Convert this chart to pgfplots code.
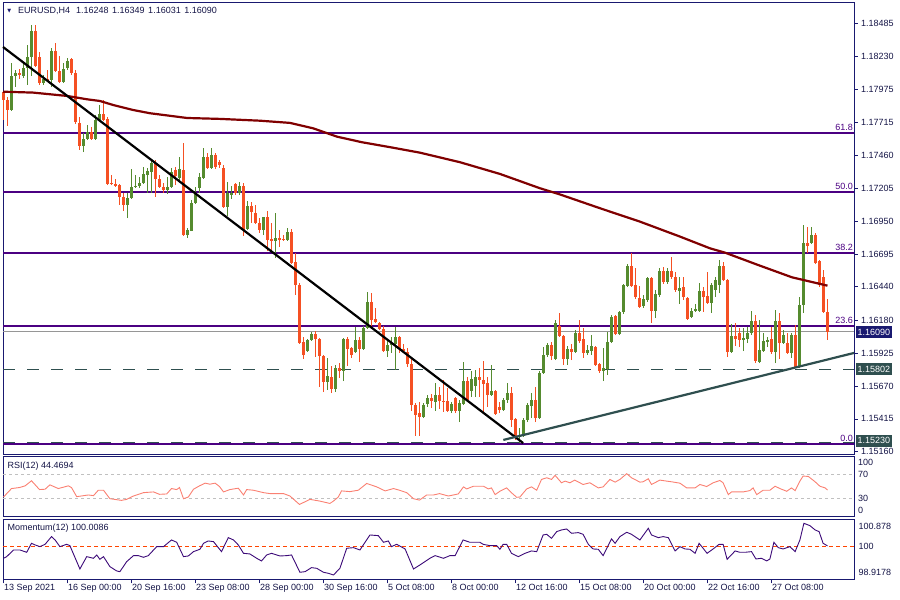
\documentclass[border=0pt]{standalone}
\usepackage{pgfplots}
\pgfplotsset{compat=1.18}
\usepackage{pgfplotstable}
\usepackage{fontspec}
\setmainfont{Liberation Sans}
\newfontfamily\dejavu{DejaVu Sans}
\definecolor{frame}{RGB}{25,25,112}
\definecolor{txt}{RGB}{20,20,70}
\definecolor{bull}{RGB}{85,139,47}
\definecolor{bear}{RGB}{245,80,35}
\definecolor{fib}{RGB}{75,0,130}
\definecolor{ma}{RGB}{128,0,0}
\definecolor{slate}{RGB}{47,79,79}
\definecolor{rsic}{RGB}{250,128,114}
\definecolor{momc}{RGB}{60,10,120}
\definecolor{lvl}{RGB}{255,69,0}
\definecolor{silv}{RGB}{192,192,192}
\definecolor{bid}{RGB}{150,150,150}
\newcommand{\lbl}{\fontsize{9bp}{10.8bp}\selectfont}

\pgfplotstableread{
i o h l c
2 1.17812 1.18177 1.17805 1.18076
3 1.18076 1.18123 1.17991 1.18100
5 1.18076 1.18185 1.18061 1.18138
6 1.18138 1.18317 1.18006 1.18224
7 1.18224 1.18472 1.18076 1.18425
10 1.18022 1.18084 1.18006 1.18053
12 1.18045 1.18294 1.17991 1.18270
15 1.18030 1.18177 1.18022 1.18131
16 1.18138 1.18216 1.18123 1.18193
20 1.17533 1.17634 1.17486 1.17587
21 1.17587 1.17696 1.17580 1.17642
23 1.17587 1.17774 1.17580 1.17735
24 1.17735 1.17851 1.17727 1.17781
31 1.17075 1.17168 1.16974 1.17130
32 1.17130 1.17355 1.17122 1.17215
33 1.17215 1.17308 1.17207 1.17223
34 1.17223 1.17293 1.17207 1.17246
35 1.17246 1.17370 1.17238 1.17316
36 1.17308 1.17362 1.17168 1.17339
37 1.17331 1.17424 1.17168 1.17401
41 1.17192 1.17293 1.17161 1.17215
42 1.17215 1.17362 1.17207 1.17331
44 1.17285 1.17448 1.17269 1.17355
46 1.16842 1.16897 1.16819 1.16881
47 1.16873 1.17114 1.16873 1.17091
48 1.17091 1.17215 1.17083 1.17168
49 1.17207 1.17324 1.17168 1.17293
50 1.17285 1.17518 1.17277 1.17448
52 1.17362 1.17518 1.17355 1.17463
56 1.17060 1.17254 1.16990 1.17168
57 1.17153 1.17223 1.17122 1.17168
59 1.17168 1.17254 1.17153 1.17223
61 1.16889 1.17106 1.16881 1.17067
65 1.16881 1.16982 1.16842 1.16982
68 1.16796 1.17013 1.16664 1.16819
71 1.16804 1.16897 1.16796 1.16866
76 1.15942 1.16035 1.15935 1.16028
77 1.16028 1.16090 1.16020 1.16074
81 1.15702 1.15888 1.15640 1.15748
83 1.15647 1.15834 1.15624 1.15810
85 1.15787 1.16043 1.15709 1.16035
88 1.15935 1.16129 1.15927 1.16028
90 1.15958 1.16136 1.15950 1.16121
91 1.16121 1.16400 1.16113 1.16323
96 1.15942 1.16035 1.15896 1.15989
97 1.15989 1.16051 1.15927 1.16004
98 1.15997 1.16129 1.15795 1.16051
105 1.15430 1.15539 1.15422 1.15523
106 1.15531 1.15601 1.15508 1.15578
108 1.15547 1.15694 1.15477 1.15601
112 1.15477 1.15547 1.15461 1.15531
114 1.15477 1.15562 1.15391 1.15539
115 1.15531 1.15857 1.15523 1.15709
117 1.15632 1.15787 1.15585 1.15725
118 1.15671 1.15795 1.15585 1.15741
122 1.15601 1.15834 1.15593 1.15632
125 1.15484 1.15578 1.15477 1.15562
126 1.15562 1.15694 1.15539 1.15616
129 1.15275 1.15345 1.15228 1.15290
130 1.15283 1.15422 1.15275 1.15407
131 1.15407 1.15539 1.15391 1.15523
132 1.15515 1.15616 1.15422 1.15562
134 1.15422 1.15787 1.15415 1.15772
135 1.15772 1.15973 1.15764 1.15911
136 1.15911 1.16004 1.15896 1.15989
138 1.15880 1.16183 1.15872 1.16160
141 1.15880 1.15981 1.15834 1.15958
143 1.15935 1.16105 1.15927 1.16082
146 1.15927 1.15989 1.15911 1.15950
147 1.15942 1.16066 1.15911 1.15981
150 1.15787 1.15966 1.15709 1.15810
151 1.15803 1.16090 1.15756 1.16012
152 1.16012 1.16222 1.16004 1.16206
154 1.16074 1.16253 1.16066 1.16245
155 1.16245 1.16462 1.16229 1.16454
156 1.16447 1.16617 1.16439 1.16602
160 1.16291 1.16377 1.16276 1.16346
161 1.16338 1.16517 1.16323 1.16509
163 1.16253 1.16416 1.16198 1.16385
164 1.16377 1.16586 1.16361 1.16563
166 1.16478 1.16586 1.16462 1.16563
169 1.16408 1.16517 1.16307 1.16431
172 1.16206 1.16276 1.16198 1.16253
173 1.16253 1.16307 1.16245 1.16268
174 1.16253 1.16470 1.16245 1.16408
177 1.16315 1.16470 1.16237 1.16454
178 1.16416 1.16517 1.16361 1.16493
179 1.16454 1.16648 1.16392 1.16602
182 1.15935 1.16152 1.15927 1.16059
185 1.16028 1.16121 1.15942 1.16043
186 1.16035 1.16129 1.16004 1.16082
187 1.16082 1.16253 1.16066 1.16175
189 1.15857 1.16183 1.15849 1.15950
190 1.15942 1.16082 1.15935 1.16020
191 1.16012 1.16051 1.15973 1.16028
193 1.15935 1.16260 1.15849 1.16175
195 1.16004 1.16105 1.15997 1.16066
197 1.15927 1.16082 1.15888 1.16066
199 1.15818 1.16361 1.15810 1.16299
200 1.16299 1.16920 1.16237 1.16780
202 1.16780 1.16905 1.16773 1.16842
}\bulltab

\pgfplotstableread{
i o h l c
0 1.17952 1.17960 1.17735 1.17890
1 1.17890 1.17913 1.17688 1.17812
4 1.18100 1.18131 1.18053 1.18084
8 1.18425 1.18472 1.18146 1.18154
9 1.18224 1.18262 1.18006 1.18022
11 1.18053 1.18123 1.18030 1.18037
13 1.18270 1.18332 1.18107 1.18115
14 1.18115 1.18231 1.18022 1.18030
17 1.18208 1.18216 1.18084 1.18100
18 1.18100 1.18123 1.17704 1.17719
19 1.17712 1.17758 1.17502 1.17533
22 1.17642 1.17680 1.17580 1.17587
25 1.17781 1.17890 1.17727 1.17735
26 1.17743 1.17758 1.17230 1.17238
27 1.17246 1.17308 1.17230 1.17238
28 1.17238 1.17277 1.17215 1.17223
29 1.17230 1.17238 1.17075 1.17137
30 1.17137 1.17168 1.17029 1.17075
38 1.17401 1.17424 1.17137 1.17277
39 1.17277 1.17308 1.17207 1.17215
40 1.17215 1.17246 1.17168 1.17192
43 1.17347 1.17370 1.17230 1.17300
45 1.17347 1.17556 1.16835 1.16842
51 1.17448 1.17479 1.17355 1.17362
53 1.17463 1.17479 1.17355 1.17370
54 1.17409 1.17424 1.17362 1.17386
55 1.17362 1.17386 1.17052 1.17060
58 1.17238 1.17246 1.17153 1.17168
60 1.17223 1.17246 1.16835 1.16881
62 1.17067 1.17099 1.16936 1.17021
63 1.17013 1.17075 1.16928 1.16936
64 1.16936 1.16974 1.16858 1.16881
66 1.16982 1.17029 1.16718 1.16804
67 1.16811 1.16936 1.16711 1.16796
69 1.16819 1.16881 1.16749 1.16804
70 1.16811 1.16842 1.16796 1.16804
72 1.16866 1.16889 1.16617 1.16625
73 1.16633 1.16703 1.16377 1.16454
74 1.16454 1.16470 1.15997 1.16004
75 1.16012 1.16051 1.15880 1.15911
78 1.16074 1.16097 1.15896 1.16035
79 1.16035 1.16043 1.15663 1.15903
80 1.15903 1.15911 1.15624 1.15702
82 1.15741 1.15826 1.15616 1.15647
84 1.15810 1.15849 1.15733 1.15787
86 1.16035 1.16051 1.15826 1.15958
87 1.15966 1.15973 1.15888 1.15911
89 1.16028 1.16051 1.15857 1.15958
92 1.16323 1.16392 1.16136 1.16183
93 1.16191 1.16276 1.16160 1.16167
94 1.16160 1.16167 1.16105 1.16113
95 1.16113 1.16136 1.15935 1.15942
99 1.16051 1.16059 1.15927 1.15958
100 1.15958 1.15997 1.15927 1.15942
101 1.15935 1.15966 1.15818 1.15841
102 1.15841 1.15896 1.15477 1.15523
103 1.15523 1.15539 1.15283 1.15446
104 1.15461 1.15547 1.15283 1.15430
107 1.15578 1.15609 1.15500 1.15554
109 1.15601 1.15663 1.15492 1.15554
110 1.15554 1.15717 1.15469 1.15547
111 1.15554 1.15655 1.15469 1.15477
113 1.15578 1.15585 1.15461 1.15477
116 1.15709 1.15741 1.15547 1.15562
119 1.15741 1.15810 1.15585 1.15717
120 1.15717 1.15865 1.15461 1.15686
121 1.15694 1.15741 1.15508 1.15601
123 1.15632 1.15640 1.15446 1.15453
124 1.15508 1.15547 1.15461 1.15484
127 1.15616 1.15663 1.15353 1.15407
128 1.15415 1.15422 1.15252 1.15283
133 1.15562 1.15663 1.15391 1.15422
137 1.15989 1.16012 1.15872 1.15903
139 1.16136 1.16237 1.16051 1.16059
140 1.16059 1.16066 1.15834 1.15880
142 1.15958 1.15997 1.15872 1.15935
144 1.16082 1.16183 1.16004 1.16020
145 1.16035 1.16121 1.15888 1.15927
148 1.15973 1.15981 1.15826 1.15834
149 1.15841 1.15849 1.15772 1.15787
153 1.16214 1.16222 1.16066 1.16074
157 1.16602 1.16703 1.16439 1.16447
158 1.16454 1.16586 1.16346 1.16361
159 1.16354 1.16447 1.16276 1.16284
162 1.16509 1.16517 1.16160 1.16253
165 1.16563 1.16594 1.16462 1.16478
167 1.16563 1.16672 1.16501 1.16517
168 1.16517 1.16555 1.16400 1.16416
170 1.16439 1.16517 1.16338 1.16361
171 1.16354 1.16361 1.16183 1.16191
175 1.16408 1.16439 1.16245 1.16361
176 1.16369 1.16555 1.16307 1.16315
180 1.16602 1.16633 1.16485 1.16493
181 1.16493 1.16501 1.15896 1.15935
183 1.16059 1.16160 1.15981 1.16035
184 1.16082 1.16121 1.15973 1.16028
188 1.16175 1.16222 1.15849 1.15865
192 1.16035 1.16129 1.15919 1.15935
194 1.16175 1.16237 1.15880 1.16004
196 1.16004 1.16082 1.15919 1.15927
198 1.16066 1.16144 1.15810 1.15818
201 1.16780 1.16905 1.16703 1.16757
203 1.16842 1.16858 1.16617 1.16625
204 1.16641 1.16648 1.16439 1.16454
205 1.16517 1.16571 1.16237 1.16245
206 1.16248 1.16349 1.16031 1.16090
}\beartab

\pgfplotsset{
  mtpanel/.style={
    scale only axis, width=851bp, xmin=-0.125, xmax=212.625,
    axis line style={draw=frame, line width=0.9bp},
    tick style={draw=frame, line width=0.8bp},
    ytick pos=right, yticklabel pos=right,
    tick align=outside, major tick length=3.5bp,
    yticklabel style={font=\lbl, text=txt, anchor=west, inner sep=0pt},
    scaled y ticks=false, clip=false,
  },
  wick/.style={draw=none, mark=none, forget plot,
    error bars/.cd, y dir=plus, y explicit, error mark=none,
    error bar style={draw=#1, line width=1bp}},
  body/.style={draw=none, mark=none, forget plot,
    error bars/.cd, y dir=plus, y explicit, error mark=none,
    error bar style={draw=#1, line width=3bp}},
}

\begin{document}
\begin{tikzpicture}
\useasboundingbox (0bp,0bp) rectangle (900bp,600bp);

% ---------------- main price panel ----------------
\begin{axis}[mtpanel, at={(3bp,146bp)}, anchor=south west, height=452bp,
  ymin=1.15143, ymax=1.18650, xtick=\empty,
  ytick={1.15160,1.15415,1.15670,1.15925,1.16180,1.16440,1.16695,1.16950,1.17205,1.17460,1.17715,1.17975,1.18230,1.18485},
  yticklabels={1.15160,1.15415,1.15670,1.15925,1.16180,1.16440,1.16695,1.16950,1.17205,1.17460,1.17715,1.17975,1.18230,1.18485},
  yticklabel style={xshift=3.5bp}]
% horizontal levels
\addplot[bid, line width=1bp] coordinates {(-0.125,1.16097) (212.625,1.16097)};
\addplot[fib, line width=2bp] coordinates {(-0.125,1.17632) (212.625,1.17632)};
\addplot[fib, line width=2bp] coordinates {(-0.125,1.17174) (212.625,1.17174)};
\addplot[fib, line width=2bp] coordinates {(-0.125,1.16705) (212.625,1.16705)};
\addplot[fib, line width=2bp] coordinates {(-0.125,1.16139) (212.625,1.16139)};
\addplot[fib, line width=2bp] coordinates {(-0.125,1.15222) (212.625,1.15222)};
\addplot[slate, line width=1bp, dash pattern=on 12bp off 12bp] coordinates {(-0.125,1.15802) (212.625,1.15802)};
\addplot[slate, line width=1bp, dash pattern=on 12bp off 12bp] coordinates {(-0.125,1.15235) (212.625,1.15235)};
% candles
\addplot[wick=bull] table[x=i, y=l, y error expr=\thisrow{h}-\thisrow{l}] {\bulltab};
\addplot[body=bull] table[x=i, y=o, y error expr=\thisrow{c}-\thisrow{o}] {\bulltab};
\addplot[wick=bear] table[x=i, y=l, y error expr=\thisrow{h}-\thisrow{l}] {\beartab};
\addplot[body=bear] table[x=i, y=c, y error expr=\thisrow{o}-\thisrow{c}] {\beartab};
% moving average
\addplot[ma, line width=2.2bp] coordinates {(-0.125,1.17954)(7.4,1.17947)(15.9,1.17921)(20.9,1.17895)(24.1,1.17882)(27.4,1.17851)(32.4,1.17812)(36.6,1.17787)(45.9,1.17750)(54.1,1.17743)(64.1,1.17729)(71.6,1.17712)(77.4,1.17670)(83.4,1.17605)(89.6,1.17562)(97.1,1.17521)(104.1,1.17481)(114.1,1.17407)(124.1,1.17316)(134.1,1.17205)(139.1,1.17157)(149.1,1.17050)(159.1,1.16946)(169.1,1.16830)(176.6,1.16739)(180.4,1.16705)(188.6,1.16610)(197.1,1.16514)(206,1.16449)};
% trend lines
\addplot[black, line width=2.2bp] coordinates {(-0.125,1.18301) (129.9,1.15228)};
\addplot[slate, line width=2.2bp] coordinates {(124.95,1.15252) (212.625,1.15927)};
% fib labels
\node[anchor=south east, inner sep=0pt, text=fib, font=\lbl] at (axis cs:212.625,1.17632) [xshift=-1bp, yshift=2bp] {61.8};
\node[anchor=south east, inner sep=0pt, text=fib, font=\lbl] at (axis cs:212.625,1.17174) [xshift=-1bp, yshift=2bp] {50.0};
\node[anchor=south east, inner sep=0pt, text=fib, font=\lbl] at (axis cs:212.625,1.16705) [xshift=-1bp, yshift=2bp] {38.2};
\node[anchor=south east, inner sep=0pt, text=fib, font=\lbl] at (axis cs:212.625,1.16139) [xshift=-1bp, yshift=2bp] {23.6};
\node[anchor=south east, inner sep=0pt, text=fib, font=\lbl] at (axis cs:212.625,1.15222) [xshift=-1bp, yshift=2bp] {0.0};
% price boxes
\node[anchor=west, fill=frame, text=white, font=\lbl, inner xsep=2bp, inner ysep=2.5bp] at (axis cs:212.625,1.16090) [xshift=1.5bp] {1.16090};
\node[anchor=west, fill=slate, text=white, font=\lbl, inner xsep=2bp, inner ysep=2.5bp] at (axis cs:212.625,1.15802) [xshift=1.5bp] {1.15802};
\node[anchor=west, fill=slate, text=white, font=\lbl, inner xsep=2bp, inner ysep=2.5bp] at (axis cs:212.625,1.15245) [xshift=1.5bp] {1.15230};
% title
\node[inner sep=0pt, text=frame] at (rel axis cs:0,1) [xshift=6.2bp, yshift=-8.8bp] {\dejavu\fontsize{5bp}{6bp}\selectfont ▼};
\node[anchor=west, inner sep=0pt, text=txt, font=\lbl] at (rel axis cs:0,1) [xshift=15bp, yshift=-9bp]
  {EURUSD,H4\hspace{6bp}1.16248\hspace{3.5bp}1.16349\hspace{3.5bp}1.16031\hspace{3.5bp}1.16090};
\end{axis}

% ---------------- RSI panel ----------------
\begin{axis}[mtpanel, at={(3bp,83.3bp)}, anchor=south west, height=60bp,
  ymin=0, ymax=100, xtick=\empty,
  ytick={11,30,70,90}, yticklabels={0,30,70,100},
  ytick style={draw=none},
  yticklabel style={xshift=0.5bp}]
\addplot[silv, line width=0.8bp, dash pattern=on 3bp off 3bp] coordinates {(-0.125,30) (212.625,30)};
\addplot[silv, line width=0.8bp, dash pattern=on 3bp off 3bp] coordinates {(-0.125,70) (212.625,70)};
\addplot[rsic, line width=0.9bp] coordinates {(0,32.8)(2,46.9)(4,48.6)(5.4,51.4)(7,59.9)(9,45.2)(10.4,45.8)(11.6,53.1)(13.7,46.9)(16.2,51.4)(17,48.6)(18.3,33.4)(21.2,36.2)(22.5,35.1)(23.7,44.1)(25,44.1)(26.6,30)(29.5,27.2)(30.8,28.9)(32.5,34.5)(35,40.1)(37.5,41.3)(39,37.3)(40.8,37.9)(42,46.9)(43.3,45.2)(44,48.6)(45,30)(46.2,32.8)(47.5,45.8)(49,51.4)(50.4,55.9)(51.6,54.2)(52.9,55.9)(54,50.3)(55,41.3)(56.6,45.2)(58.7,47.5)(60,36.2)(60.8,45.2)(62.5,44.1)(65,40.1)(66.6,38.5)(70,38.5)(71.6,34.5)(74,20.4)(76.6,28.9)(79,26.1)(81.6,22.1)(82.5,26.1)(83.7,32.8)(84.5,43)(86.6,41.8)(88.7,44.1)(90.8,55.4)(93.3,49.7)(95.4,43)(97.5,46.9)(99,44.1)(100.8,40.1)(102.5,30)(104,27.7)(105.8,36.2)(107.5,36.2)(109,38.5)(111.2,34.5)(112.9,36.8)(113.7,38)(115,49.7)(115.8,46.3)(117.5,50.8)(120,50.8)(121.2,46.3)(122,48)(122.9,36.8)(124.1,42.4)(125.8,48)(127,39.9)(128.3,32.3)(129.1,32.8)(130.8,46.3)(132,49.7)(133.3,44.1)(134.5,62.1)(135.8,64.9)(137,62.1)(137.9,68.9)(139.5,56.5)(140.4,59.3)(141.6,56.5)(142.8,61)(144.9,53.7)(146.6,56.5)(148.7,48)(149.9,49.7)(151.6,62.1)(152.9,57.6)(154.1,62.1)(155.8,71.7)(157,64.9)(159.1,57.6)(159.9,58.2)(161.2,63.2)(162,53.7)(164.1,61)(165.8,59.3)(167,58.2)(169.1,55.9)(170.8,48)(172.9,48)(174.1,53.7)(175.8,50.3)(177.4,56.5)(179.1,60.4)(179.9,56.5)(181.2,36.8)(182,41.3)(184.9,41.3)(186.6,43.5)(187.4,48)(188.3,36.8)(189.9,44.1)(191.6,44.1)(192.9,50.8)(194.1,46.9)(195.8,42.4)(197,48)(197.9,43.5)(199.1,59.3)(199.9,67.7)(201.2,67.1)(202.9,58.2)(204.1,50.8)(205.4,48)(206,44.47)};
\node[anchor=west, inner sep=0pt, text=txt, font=\lbl] at (rel axis cs:0,1) [xshift=4.5bp, yshift=-9bp] {RSI(12) 44.4694};
\end{axis}

% ---------------- Momentum panel ----------------
\begin{axis}[mtpanel, at={(3bp,20.7bp)}, anchor=south west, height=60bp,
  ymin=98.9178, ymax=100.878,
  ytick={99.146,100,100.659}, yticklabels={98.9178,100,100.878},
  ytick style={draw=none},
  yticklabel style={xshift=0.5bp},
  xtick pos=bottom, major tick length=4bp,
  xtick={-0.125,15.875,31.875,47.875,63.875,79.875,95.875,111.875,127.875,143.875,159.875,175.875,191.875},
  xticklabels={13 Sep 2021,16 Sep 00:00,20 Sep 16:00,23 Sep 08:00,28 Sep 00:00,30 Sep 16:00,5 Oct 08:00,8 Oct 00:00,12 Oct 16:00,15 Oct 08:00,20 Oct 00:00,22 Oct 16:00,27 Oct 08:00},
  xticklabel style={font=\lbl, text=txt, anchor=north west, inner sep=0pt, xshift=1bp, yshift=-1bp}]
\addplot[lvl, line width=0.9bp, dash pattern=on 4bp off 3bp] coordinates {(-0.125,100) (212.625,100)};
\addplot[momc, line width=0.9bp] coordinates {(0,99.604)(0.8,99.658)(2.5,99.876)(4.1,99.876)(5.8,99.800)(7.0,100.094)(7.9,100.040)(9.1,99.985)(10.4,100.061)(12.0,100.312)(12.9,100.203)(14.1,99.985)(15.8,100.061)(16.6,100.018)(19.1,99.255)(20.8,99.658)(22.5,99.604)(23.3,99.713)(24.1,99.571)(25.0,99.658)(26.6,99.332)(28.3,99.190)(29.1,99.168)(30.8,99.495)(32.5,99.691)(33.7,99.691)(35.0,99.637)(36.2,99.691)(38.3,99.985)(40.0,99.985)(42.0,100.203)(43.3,100.127)(45.0,99.658)(46.2,99.680)(47.5,99.822)(49.1,99.898)(50.0,100.094)(51.2,100.170)(52.5,100.149)(54.5,99.822)(56.2,100.279)(57.5,100.203)(58.7,100.040)(60.0,99.767)(61.6,99.746)(63.3,99.604)(64.5,99.517)(65.8,99.713)(67.0,99.767)(69.1,99.680)(70.8,99.691)(72.0,99.713)(74.1,99.147)(75.4,99.168)(77.0,99.299)(78.3,99.277)(80.0,99.147)(81.2,99.114)(82.5,99.059)(84.1,99.277)(85.8,99.931)(87.5,99.952)(89.1,99.876)(91.6,100.366)(93.7,100.344)(95.0,100.127)(96.2,100.170)(97.0,99.985)(98.3,100.061)(100.4,99.909)(102.5,99.255)(104.1,99.386)(106.6,99.604)(107.9,99.691)(110.0,99.604)(111.6,99.691)(112.9,99.691)(114.9,100.203)(116.6,100.127)(119.1,100.127)(119.9,100.061)(121.6,100.018)(123.3,100.018)(124.1,99.898)(124.9,100.061)(125.8,100.061)(127.0,99.767)(128.7,99.658)(130.4,99.767)(132.0,99.844)(133.3,99.822)(134.9,100.366)(135.8,100.388)(137.0,100.257)(138.3,100.475)(139.5,100.530)(140.8,100.562)(142.0,100.421)(143.7,100.443)(144.9,100.388)(146.2,100.061)(147.4,99.909)(148.7,99.898)(149.9,99.691)(152.0,100.236)(152.9,100.094)(154.1,100.312)(155.8,100.454)(157.0,100.388)(159.1,100.203)(161.2,100.584)(162.0,100.366)(163.7,100.279)(164.9,100.312)(166.2,100.279)(167.9,99.844)(169.1,99.985)(170.4,99.909)(171.6,99.898)(172.9,99.767)(173.9,100.094)(174.9,99.931)(175.9,99.767)(177.4,99.909)(178.9,100.061)(179.9,100.061)(180.9,99.571)(182.9,99.844)(184.1,99.800)(185.4,99.800)(187.0,99.822)(188.1,99.582)(189.5,99.604)(190.8,99.517)(191.6,99.582)(192.6,100.127)(193.7,99.952)(194.9,99.909)(196.6,99.985)(197.9,99.822)(199.1,100.203)(200.1,100.747)(201.6,100.671)(202.9,100.530)(203.9,100.475)(204.9,100.094)(206,100.0086)};
\node[anchor=west, inner sep=0pt, text=txt, font=\lbl] at (rel axis cs:0,1) [xshift=4.5bp, yshift=-8.5bp] {Momentum(12) 100.0086};
\end{axis}
\end{tikzpicture}
\end{document}
